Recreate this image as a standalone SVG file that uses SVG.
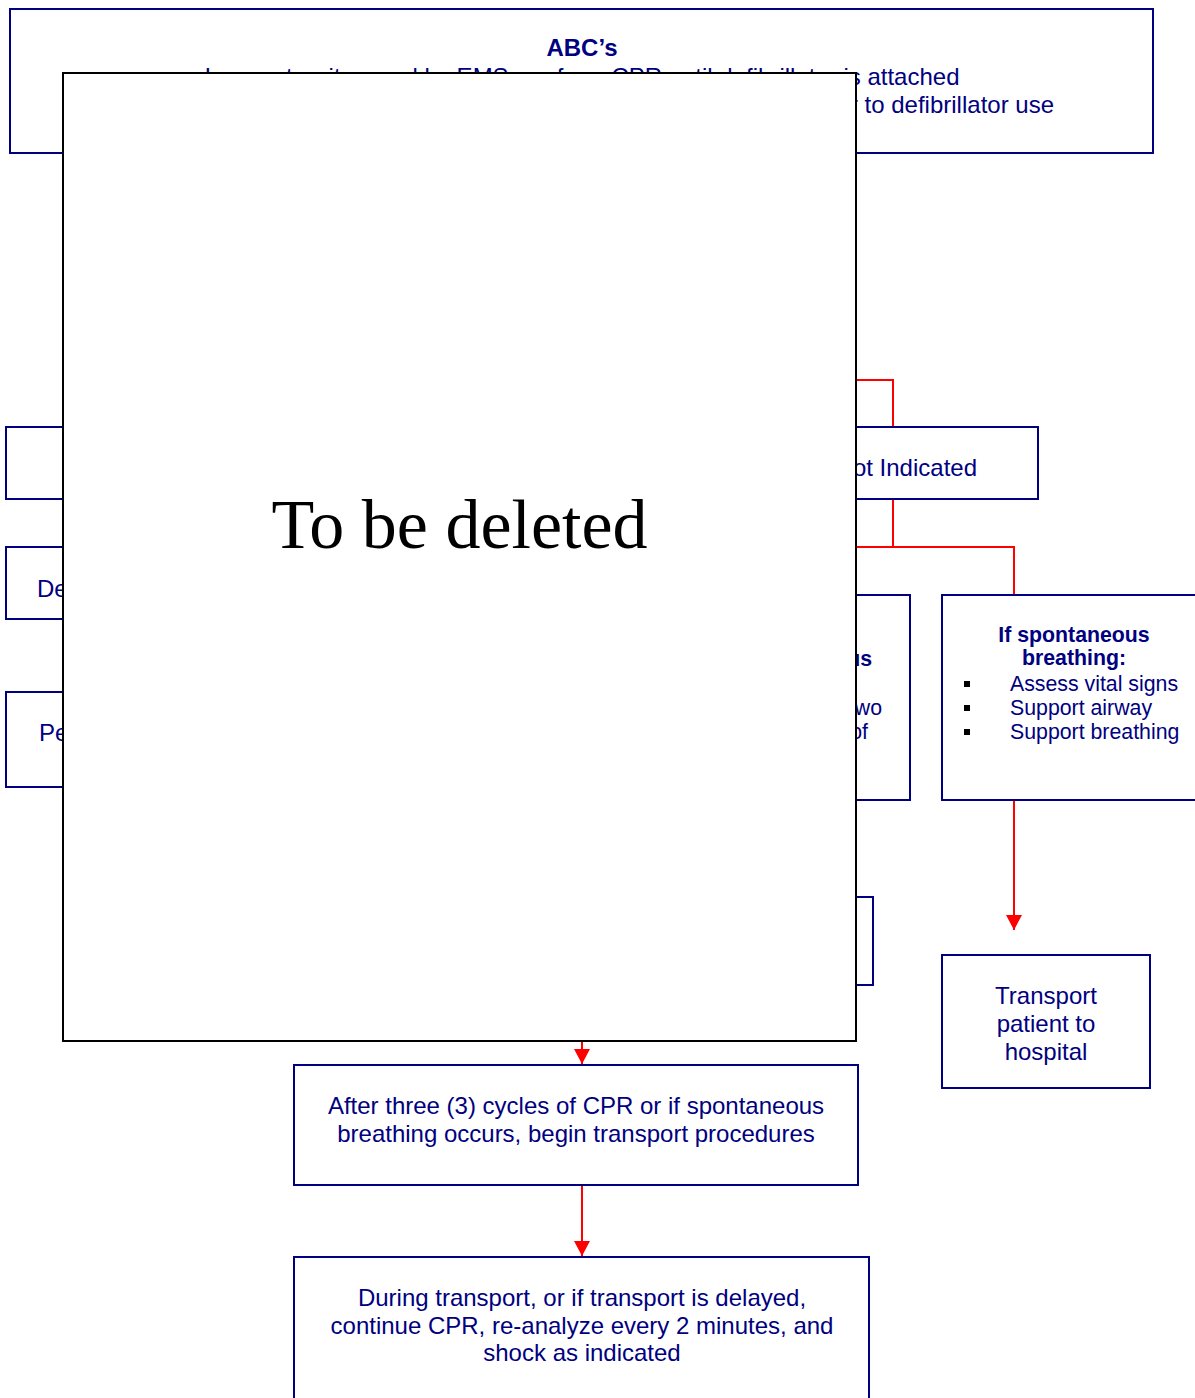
<svg xmlns="http://www.w3.org/2000/svg" width="1195" height="1398" viewBox="0 0 1195 1398">
<style>
.box{fill:#fff;stroke:#000080;stroke-width:2}
.t{font-family:"Liberation Sans",Arial,sans-serif;font-size:24px;fill:#000080}
.s{font-family:"Liberation Sans",Arial,sans-serif;font-size:21.3px;fill:#000080}
.b{font-weight:bold}
.c{text-anchor:middle}
.e{text-anchor:end}
.ln{fill:none;stroke:#ff0000;stroke-width:2}
</style>
<defs>
<marker id="ah" viewBox="0 0 15 16" refX="15" refY="8" markerWidth="15" markerHeight="16" markerUnits="userSpaceOnUse" orient="auto">
<path d="M0,0 L15,8 L0,16 Z" fill="#ff0000"/>
</marker>
</defs>
<rect width="1195" height="1398" fill="#fff"/>
<g id="connectors">
<polyline class="ln" points="700,380 893,380 893,427"/>
<polyline class="ln" points="893,499 893,547 1014,547 1014,595"/>
<line class="ln" x1="700" y1="547" x2="893" y2="547"/>
<line class="ln" x1="1014" y1="801" x2="1014" y2="930" marker-end="url(#ah)"/>
<line class="ln" x1="582" y1="1000" x2="582" y2="1064" marker-end="url(#ah)"/>
<line class="ln" x1="582" y1="1186" x2="582" y2="1256" marker-end="url(#ah)"/>
</g>
<g id="abc">
<rect class="box" x="10" y="9" width="1143" height="144"/>
<text class="t b c" x="582" y="56">ABC’s</text>
<text class="t c" x="582" y="85">In arrests witnessed by EMS, perform CPR until defibrillator is attached</text>
<text class="t e" x="1054" y="113">r to defibrillator use</text>
</g>
<g id="left1"><rect class="box" x="6" y="427" width="300" height="72"/></g>
<g id="left2"><rect class="box" x="6" y="547" width="300" height="72"/><text class="t" x="37" y="597">De</text></g>
<g id="left3"><rect class="box" x="6" y="692" width="300" height="95"/><text class="t" x="39" y="741">Pe</text></g>
<g id="not-indicated"><rect class="box" x="700" y="427" width="338" height="72"/><text class="t e" x="977" y="476">ot Indicated</text></g>
<g id="mid-box">
<rect class="box" x="600" y="595" width="310" height="205"/>
<text class="s b e" x="872" y="666">us</text>
<text class="s e" x="882" y="715">wo</text>
<text class="s e" x="868" y="739">of</text>
</g>
<g id="mid-low"><rect class="box" x="600" y="897" width="273" height="88"/></g>
<g id="spontaneous">
<rect class="box" x="942" y="595" width="270" height="205"/>
<text class="s b c" x="1074" y="642">If spontaneous</text>
<text class="s b c" x="1074" y="665">breathing:</text>
<rect x="964" y="681" width="6" height="6" fill="#000"/>
<rect x="964" y="705" width="6" height="6" fill="#000"/>
<rect x="964" y="729" width="6" height="6" fill="#000"/>
<text class="s" x="1010" y="691">Assess vital signs</text>
<text class="s" x="1010" y="715">Support airway</text>
<text class="s" x="1010" y="739">Support breathing</text>
</g>
<g id="transport">
<rect class="box" x="942" y="955" width="208" height="133"/>
<text class="t c" x="1046" y="1004">Transport</text>
<text class="t c" x="1046" y="1032">patient to</text>
<text class="t c" x="1046" y="1060">hospital</text>
</g>
<g id="after">
<rect class="box" x="294" y="1065" width="564" height="120"/>
<text class="t c" x="576" y="1114">After three (3) cycles of CPR or if spontaneous</text>
<text class="t c" x="576" y="1142">breathing occurs, begin transport procedures</text>
</g>
<g id="during">
<rect class="box" x="294" y="1257" width="575" height="160"/>
<text class="t c" x="582" y="1306">During transport, or if transport is delayed,</text>
<text class="t c" x="582" y="1334">continue CPR, re-analyze every 2 minutes, and</text>
<text class="t c" x="582" y="1361">shock as indicated</text>
</g>
<g id="overlay">
<rect x="63" y="73" width="793" height="968" fill="#fff" stroke="#000" stroke-width="2"/>
<text x="459.5" y="548" font-family="'Liberation Serif','Times New Roman',serif" font-size="70" text-anchor="middle" fill="#000">To be deleted</text>
</g>
</svg>
